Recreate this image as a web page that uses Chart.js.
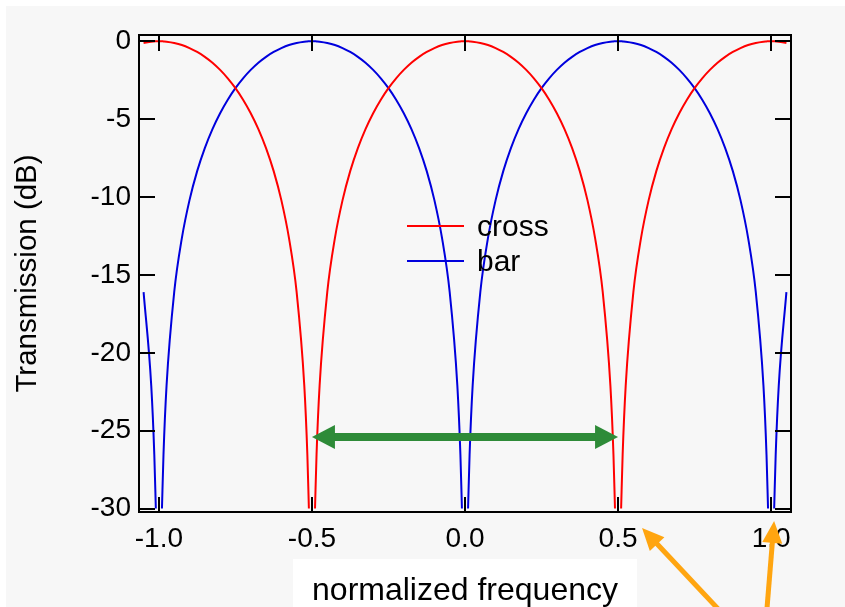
<!DOCTYPE html>
<html>
<head>
<meta charset="utf-8">
<script src="https://cdn.jsdelivr.net/npm/chart.js@4/dist/chart.umd.min.js"></script>
<style>
  html, body { margin: 0; padding: 0; background: #fff; }
  #wrap { width: 845px; height: 607px; }
</style>
</head>
<body>
<div id="wrap"><canvas id="mzi" width="845" height="607"></canvas></div>
<script>
// normalized frequency samples (denser next to every null)
const freq = [
  -1.05, -1.025, -1.015, -1.01,
  -1.0, -0.99, -0.985, -0.975, -0.95, -0.925, -0.9, -0.875, -0.85, -0.825, -0.8, -0.775,
  -0.75, -0.725, -0.7, -0.675, -0.65, -0.625, -0.6, -0.575, -0.55, -0.525, -0.515, -0.51,
  -0.5, -0.49, -0.485, -0.475, -0.45, -0.425, -0.4, -0.375, -0.35, -0.325, -0.3, -0.275,
  -0.25, -0.225, -0.2, -0.175, -0.15, -0.125, -0.1, -0.075, -0.05, -0.025, -0.015, -0.01,
  0, 0.01, 0.015, 0.025, 0.05, 0.075, 0.1, 0.125, 0.15, 0.175, 0.2, 0.225,
  0.25, 0.275, 0.3, 0.325, 0.35, 0.375, 0.4, 0.425, 0.45, 0.475, 0.485, 0.49,
  0.5, 0.51, 0.515, 0.525, 0.55, 0.575, 0.6, 0.625, 0.65, 0.675, 0.7, 0.725,
  0.75, 0.775, 0.8, 0.825, 0.85, 0.875, 0.9, 0.925, 0.95, 0.975, 0.985, 0.99,
  1.0, 1.01, 1.015, 1.025, 1.05
];

// cross port transmission, dB (null = below the -30 dB floor)
const cross = [
  -0.11, -0.03, -0.01, 0,
  0, 0, -0.01, -0.03, -0.11, -0.24, -0.44, -0.69, -1.0, -1.38, -1.84, -2.38,
  -3.01, -3.75, -4.62, -5.64, -6.86, -8.34, -10.2, -12.64, -16.11, -22.11, -26.54, -30,
  null, -30, -26.54, -22.11, -16.11, -12.64, -10.2, -8.34, -6.86, -5.64, -4.62, -3.75,
  -3.01, -2.38, -1.84, -1.38, -1.0, -0.69, -0.44, -0.24, -0.11, -0.03, -0.01, 0,
  0, 0, -0.01, -0.03, -0.11, -0.24, -0.44, -0.69, -1.0, -1.38, -1.84, -2.38,
  -3.01, -3.75, -4.62, -5.64, -6.86, -8.34, -10.2, -12.64, -16.11, -22.11, -26.54, -30,
  null, -30, -26.54, -22.11, -16.11, -12.64, -10.2, -8.34, -6.86, -5.64, -4.62, -3.75,
  -3.01, -2.38, -1.84, -1.38, -1.0, -0.69, -0.44, -0.24, -0.11, -0.03, -0.01, 0,
  0, 0, -0.01, -0.03, -0.11
];

// bar port transmission, dB
const bar = [
  -16.11, -22.11, -26.54, -30,
  null, -30, -26.54, -22.11, -16.11, -12.64, -10.2, -8.34, -6.86, -5.64, -4.62, -3.75,
  -3.01, -2.38, -1.84, -1.38, -1.0, -0.69, -0.44, -0.24, -0.11, -0.03, -0.01, 0,
  0, 0, -0.01, -0.03, -0.11, -0.24, -0.44, -0.69, -1.0, -1.38, -1.84, -2.38,
  -3.01, -3.75, -4.62, -5.64, -6.86, -8.34, -10.2, -12.64, -16.11, -22.11, -26.54, -30,
  null, -30, -26.54, -22.11, -16.11, -12.64, -10.2, -8.34, -6.86, -5.64, -4.62, -3.75,
  -3.01, -2.38, -1.84, -1.38, -1.0, -0.69, -0.44, -0.24, -0.11, -0.03, -0.01, 0,
  0, 0, -0.01, -0.03, -0.11, -0.24, -0.44, -0.69, -1.0, -1.38, -1.84, -2.38,
  -3.01, -3.75, -4.62, -5.64, -6.86, -8.34, -10.2, -12.64, -16.11, -22.11, -26.54, -30,
  null, -30, -26.54, -22.11, -16.11
];

const xTicks = [-1.0, -0.5, 0.0, 0.5, 1.0];
const yTicks = [0, -5, -10, -15, -20, -25, -30];

// FSR marker: from one cross null to the next
const fsrFrom = -0.5, fsrTo = 0.5, fsrLevel = -25.4;

const FONT = "'Liberation Sans', Arial, Helvetica, sans-serif";

function arrowHead(ctx, x1, y1, x2, y2, len, half) {
  const a = Math.atan2(y2 - y1, x2 - x1);
  ctx.beginPath();
  ctx.moveTo(x2, y2);
  ctx.lineTo(x2 - len * Math.cos(a) + half * Math.sin(a), y2 - len * Math.sin(a) - half * Math.cos(a));
  ctx.lineTo(x2 - len * Math.cos(a) - half * Math.sin(a), y2 - len * Math.sin(a) + half * Math.cos(a));
  ctx.closePath();
  ctx.fill();
}

function arrow(ctx, x1, y1, x2, y2, o) {
  const a = Math.atan2(y2 - y1, x2 - x1);
  const dx = Math.cos(a) * o.len * 0.8, dy = Math.sin(a) * o.len * 0.8;
  ctx.save();
  ctx.strokeStyle = o.color;
  ctx.fillStyle = o.color;
  ctx.lineWidth = o.width;
  ctx.beginPath();
  ctx.moveTo(o.both ? x1 + dx : x1, o.both ? y1 + dy : y1);
  ctx.lineTo(x2 - dx, y2 - dy);
  ctx.stroke();
  arrowHead(ctx, x1, y1, x2, y2, o.len, o.half);
  if (o.both) arrowHead(ctx, x2, y2, x1, y1, o.len, o.half);
  ctx.restore();
}

const background = {
  id: 'background',
  beforeDraw(chart) {
    const ctx = chart.ctx;
    ctx.save();
    ctx.fillStyle = '#ffffff';
    ctx.fillRect(0, 0, chart.width, chart.height);
    ctx.fillStyle = '#f7f7f7';
    ctx.fillRect(6, 6, chart.width - 6, chart.height - 6);
    ctx.restore();
  }
};

// box frame with inward ticks on all four sides, titles, legend, arrows
const decorations = {
  id: 'decorations',
  afterDraw(chart) {
    const ctx = chart.ctx;
    const { left, right, top, bottom } = chart.chartArea;
    const xs = chart.scales.x, ys = chart.scales.y;
    ctx.save();

    ctx.strokeStyle = '#000';
    ctx.lineWidth = 2;
    ctx.strokeRect(left, top, right - left, bottom - top);
    ctx.beginPath();
    xTicks.forEach(v => {
      const px = Math.round(xs.getPixelForValue(v));
      ctx.moveTo(px, bottom); ctx.lineTo(px, bottom - 15);
      ctx.moveTo(px, top); ctx.lineTo(px, top + 16);
    });
    yTicks.forEach(v => {
      const py = Math.round(ys.getPixelForValue(v));
      ctx.moveTo(left, py); ctx.lineTo(left + 16, py);
      ctx.moveTo(right, py); ctx.lineTo(right - 16, py);
    });
    ctx.stroke();

    // y title
    ctx.fillStyle = '#000';
    ctx.save();
    ctx.translate(36, (top + bottom) / 2);
    ctx.rotate(-Math.PI / 2);
    ctx.font = '29.5px ' + FONT;
    ctx.textAlign = 'center';
    ctx.textBaseline = 'alphabetic';
    ctx.fillText('Transmission (dB)', 0, 0);
    ctx.restore();

    // x title on a white box
    const cx = (left + right) / 2;
    ctx.fillStyle = '#ffffff';
    ctx.fillRect(cx - 172, bottom + 47, 344, chart.height - bottom - 47);
    ctx.fillStyle = '#000';
    ctx.font = '32px ' + FONT;
    ctx.textAlign = 'center';
    ctx.textBaseline = 'alphabetic';
    ctx.fillText('normalized frequency', cx, bottom + 88);

    // legend inside the plot
    const lx = left + 268, ly = top + 191;
    chart.data.datasets.forEach((ds, i) => {
      const y = ly + i * 35;
      ctx.strokeStyle = ds.borderColor;
      ctx.lineWidth = 2;
      ctx.beginPath();
      ctx.moveTo(lx, y); ctx.lineTo(lx + 57, y);
      ctx.stroke();
      ctx.fillStyle = '#000';
      ctx.font = '30px ' + FONT;
      ctx.textAlign = 'left';
      ctx.fillText(ds.label, lx + 70, y + 10);
    });

    // FSR double arrow
    const gy = ys.getPixelForValue(fsrLevel);
    arrow(ctx, xs.getPixelForValue(fsrFrom), gy, xs.getPixelForValue(fsrTo), gy,
      { color: '#2e8b38', width: 8, len: 23, half: 12, both: true });

    // pointers from below towards the 0.5 and 1.0 marks
    arrow(ctx, 752, 645, xs.getPixelForValue(0.5) + 24, bottom + 16,
      { color: '#ffa510', width: 5, len: 22, half: 10 });
    arrow(ctx, 764, 645, xs.getPixelForValue(1.0) + 3, bottom + 9,
      { color: '#ffa510', width: 5, len: 22, half: 10 });

    ctx.restore();
  }
};

new Chart(document.getElementById('mzi'), {
  type: 'line',
  data: {
    labels: freq,
    datasets: [
      {
        label: 'cross',
        data: freq.map((f, i) => ({ x: f, y: cross[i] })),
        borderColor: '#ff0000',
        borderWidth: 2,
        pointRadius: 0,
        cubicInterpolationMode: 'monotone',
        spanGaps: false
      },
      {
        label: 'bar',
        data: freq.map((f, i) => ({ x: f, y: bar[i] })),
        borderColor: '#0000dd',
        borderWidth: 2,
        pointRadius: 0,
        cubicInterpolationMode: 'monotone',
        spanGaps: false
      }
    ]
  },
  options: {
    responsive: false,
    animation: false,
    devicePixelRatio: 1,
    layout: { padding: { left: 0, top: 35, right: 54, bottom: 0 } },
    plugins: { legend: { display: false }, tooltip: { enabled: false } },
    scales: {
      x: {
        type: 'linear',
        min: -1.065,
        max: 1.065,
        grid: { display: false, drawTicks: false },
        border: { display: false },
        afterBuildTicks: s => { s.ticks = xTicks.map(v => ({ value: v })); },
        afterFit: s => { s.height = 95; },
        ticks: {
          color: '#000',
          padding: 10,
          maxRotation: 0,
          font: { family: FONT, size: 28 },
          callback: v => v.toFixed(1)
        }
      },
      y: {
        min: -30.22,
        max: 0.4,
        grid: { display: false, drawTicks: false },
        border: { display: false },
        afterBuildTicks: s => { s.ticks = yTicks.map(v => ({ value: v })); },
        afterFit: s => { s.width = 139; },
        ticks: {
          color: '#000',
          padding: 8,
          font: { family: FONT, size: 28 },
          callback: v => String(v)
        }
      }
    }
  },
  plugins: [background, decorations]
});
</script>
</body>
</html>
